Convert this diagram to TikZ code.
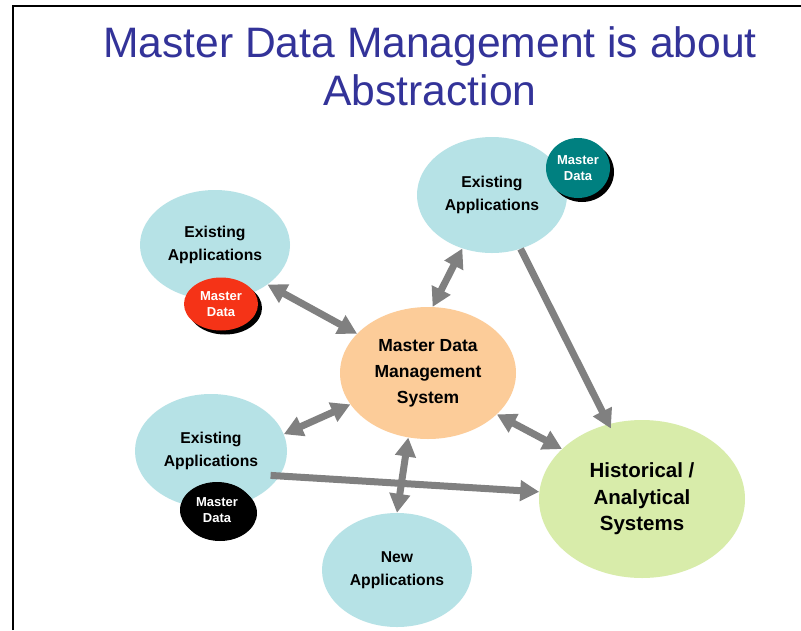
\documentclass[tikz,border=0pt]{standalone}
\usepackage{fontspec}
\setmainfont{Liberation Sans}
\usetikzlibrary{shapes.geometric,arrows.meta}
\definecolor{titleblue}{RGB}{51,51,153}
\definecolor{appblue}{RGB}{182,226,230}
\definecolor{mdmorange}{RGB}{252,204,153}
\definecolor{histgreen}{RGB}{216,236,170}
\definecolor{mdred}{RGB}{245,51,23}
\definecolor{mdteal}{RGB}{0,128,128}
\definecolor{arrowgray}{RGB}{128,128,128}
\tikzset{
  blob/.style={ellipse, inner sep=0pt, align=center, font=\bfseries\fontsize{15.7}{22.5}\selectfont},
  appbox/.style={blob, fill=appblue},
  badge/.style={ellipse, inner sep=0pt, align=center, text=white, font=\bfseries\fontsize{13}{16}\selectfont},
  badgeshadow/.style={ellipse, inner sep=0pt, fill=black},
  conn/.style={draw=arrowgray, line width=7pt, -{Triangle[length=19pt,width=20pt]}},
  biconn/.style={draw=arrowgray, line width=7pt, {Triangle[length=19pt,width=20pt]}-{Triangle[length=19pt,width=20pt]}},
}
\begin{document}
\begin{tikzpicture}[x=1pt,y=-1pt]
\useasboundingbox (0,0) rectangle (801,630);
\fill[white] (0,0) rectangle (801,630);
% frame
\draw[line width=2pt] (13,630) -- (13,6) -- (801,6);
% title
\node[text=titleblue, align=center, font=\fontsize{42.6}{48}\selectfont] (title) at (430,66) {Master Data Management is about\\Abstraction};
% nodes
\node[appbox, minimum width=150pt, minimum height=110pt] (tl) at (215,245) {Existing\\Applications};
\node[appbox, minimum width=150pt, minimum height=116pt] (tr) at (492,195) {Existing\\Applications};
\node[appbox, minimum width=152pt, minimum height=114pt] (ml) at (211,451) {Existing\\Applications};
\node[appbox, minimum width=150pt, minimum height=114pt] (new) at (397,570) {New\\Applications};
\node[blob, fill=mdmorange, minimum width=176pt, minimum height=132pt, font=\bfseries\fontsize{17.5}{26}\selectfont] (mdm) at (428,373) {Master Data\\Management\\System};
\node[blob, fill=histgreen, minimum width=206pt, minimum height=158pt, font=\bfseries\fontsize{20.5}{26.5}\selectfont] (hist) at (642,499) {Historical /\\Analytical\\Systems};
% badges
\node[badgeshadow, minimum width=74pt, minimum height=53pt] (s1) at (225,308) {};
\node[badge, fill=mdred, minimum width=74pt, minimum height=53pt] (b1) at (221,304) {Master\\Data};
\node[badgeshadow, minimum width=64pt, minimum height=60pt] (s2) at (582,172) {};
\node[badge, fill=mdteal, minimum width=64pt, minimum height=60pt] (b2) at (578,168) {Master\\Data};
\node[badgeshadow, minimum width=74pt, minimum height=56pt] (s3) at (220,513) {};
\node[badge, fill=black, minimum width=74pt, minimum height=56pt] (b3) at (217,510) {Master\\Data};
% connectors
\draw[biconn] (tl.-37) -- (mdm.151.5);
\draw[biconn] (tr.241.3) -- (mdm.86);
\draw[conn, shorten >=-5pt] (tr.-62.6) -- (hist.114.5);
\draw[biconn] (ml.13.3) -- (mdm.202.8);
\draw[biconn] (mdm.-31.5) -- (hist.148.2);
\draw[biconn] (mdm.-107.6) -- (new.90);
\draw[conn, shorten <=-9pt] (ml.-20.5) -- (hist.176);
\end{tikzpicture}
\end{document}
